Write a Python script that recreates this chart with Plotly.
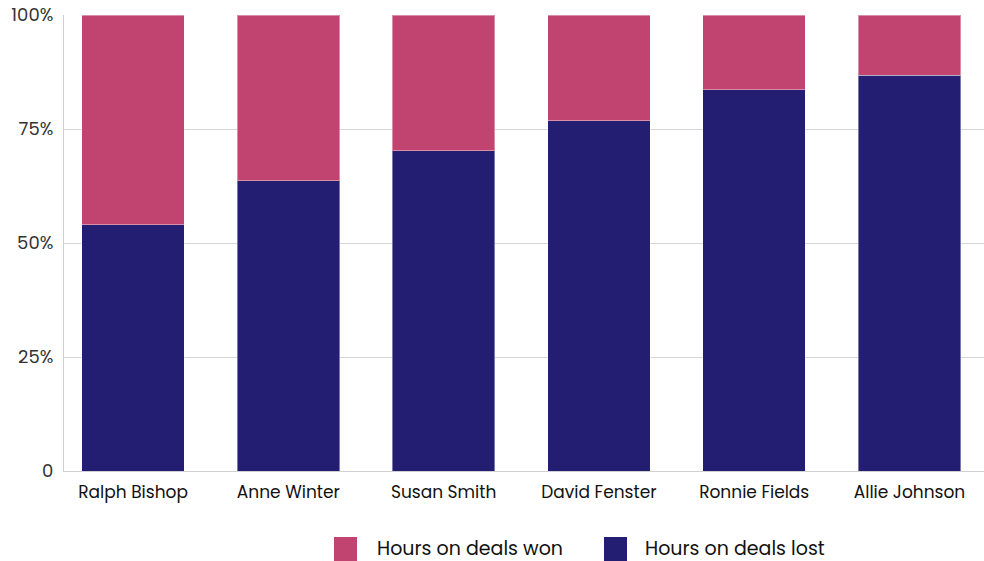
import plotly.graph_objects as go

categories = ["Ralph Bishop", "Anne Winter", "Susan Smith", "David Fenster", "Ronnie Fields", "Allie Johnson"]
hours_lost = [54.0, 63.6, 70.2, 76.8, 83.6, 86.8]
hours_won = [46.0, 36.4, 29.8, 23.2, 16.4, 13.2]
tick_vals = [0, 25, 50, 75, 100]
tick_text = ["0", "25%", "50%", "75%", "100%"]

C_WON = "#C0446F"
C_LOST = "#241E72"
FONT = "Poppins, Open Sans, sans-serif"

fig = go.Figure()
fig.add_trace(go.Bar(x=categories, y=hours_lost, name="Hours on deals lost",
                     marker=dict(color=C_LOST, line=dict(color="rgba(255,255,255,0.4)", width=1)),
                     width=0.66, showlegend=False))
fig.add_trace(go.Bar(x=categories, y=hours_won, name="Hours on deals won",
                     marker=dict(color=C_WON, line=dict(color="rgba(255,255,255,0.4)", width=1)),
                     width=0.66, showlegend=False))

fig.update_layout(
    barmode="stack",
    width=984, height=561,
    margin=dict(l=64, r=0, t=15, b=90),
    paper_bgcolor="white", plot_bgcolor="white",
    font=dict(family=FONT, color="#222"),
    xaxis=dict(range=[-0.445, 5.48], showgrid=False, showline=True, linecolor="#d0d0d0",
               linewidth=1, tickfont=dict(size=17, color="#111"), ticks="", fixedrange=True,
               ticklabelstandoff=6),
    yaxis=dict(range=[0, 100], tickvals=tick_vals, ticktext=tick_text, showgrid=True,
               gridcolor="#d6d6d6", gridwidth=1, showline=True, linecolor="#d0d0d0",
               zeroline=False, tickfont=dict(size=18, color="#333"), ticks="",
               ticklabelstandoff=6),
)

# legend drawn manually (large square swatches)
legend_items = [("Hours on deals won", C_WON, 334, 375), ("Hours on deals lost", C_LOST, 604, 643)]
for label, color, sx, tx in legend_items:
    fig.add_shape(type="rect", xref="paper", yref="paper",
                  x0=(sx - 64) / 920, x1=(sx + 23 - 64) / 920,
                  y0=(471 - 561) / 456, y1=(471 - 537) / 456,
                  fillcolor=color, line=dict(width=0))
    fig.add_annotation(xref="paper", yref="paper", x=(tx - 64) / 920, y=(471 - 548) / 456,
                       text=label, showarrow=False, xanchor="left", yanchor="middle",
                       font=dict(size=19, color="#111", family=FONT))

fig.write_html("out.html")
